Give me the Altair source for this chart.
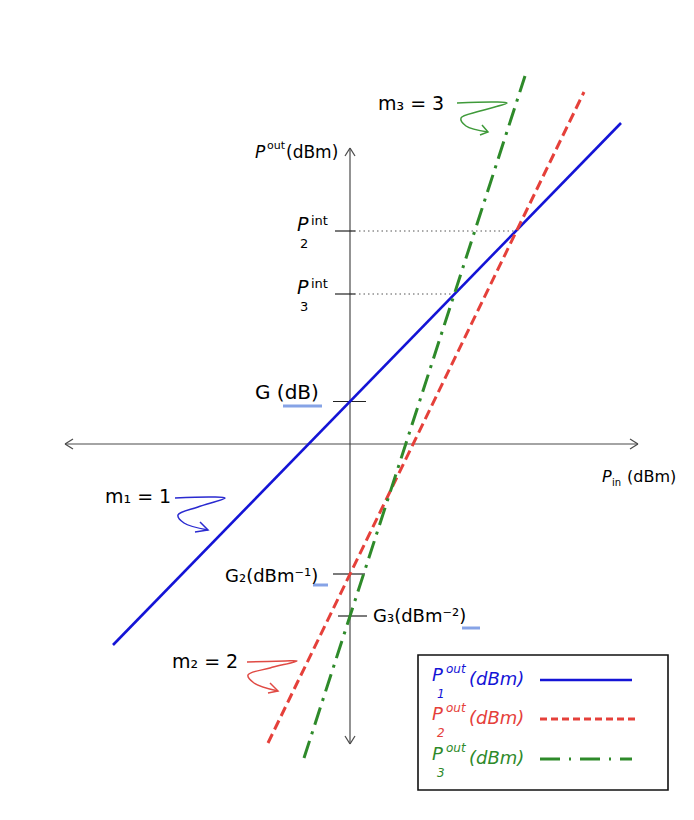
import altair as alt
import pandas as pd

# Diagram units: 1 unit = 10 px, origin where the two axes cross
X_DOMAIN = [-34.2, 33.4]
Y_DOMAIN = [-36.2, 43.6]

# ---- the three output-power lines (end points) ----
series_names = ["P1", "P2", "P3"]
line_x_start = [-23.7, -8.2, -4.6]
line_y_start = [-20.1, -29.9, -31.4]
line_x_end = [27.1, 23.4, 17.5]
line_y_end = [32.1, 35.2, 36.8]
series_colors = ["#1414d6", "#e5403a", "#2e8a2a"]

# ---- values marked on the vertical axis ----
g_value = 4.25
g2_value = -13.0
g3_value = -17.2
p2_int = 21.3
p3_int = 15.0
p2_int_x = 16.7
p3_int_x = 10.4

# ---- axes (with open arrow heads) ----
axis_x1 = [-28.5, 0.0, -28.5, -28.5, 28.8, 28.8, 0.0, 0.0, 0.0, 0.0]
axis_y1 = [0.0, 29.6, 0.0, 0.0, 0.0, 0.0, 29.6, 29.6, -30.0, -30.0]
axis_x2 = [28.8, 0.0, -27.7, -27.7, 28.0, 28.0, -0.5, 0.5, -0.5, 0.5]
axis_y2 = [0.0, -30.0, 0.5, -0.5, 0.5, -0.5, 28.8, 28.8, -29.2, -29.2]

# ---- ticks on the vertical axis ----
tick_x1 = [-1.7, -1.7, -1.2, -1.5, -1.5]
tick_x2 = [1.6, 1.5, 1.7, 0.5, 0.5]
tick_y = [g_value, g2_value, g3_value, p2_int, p3_int]

# ---- dotted guides to the intercept points ----
dot_x2 = [p2_int_x, p3_int_x]
dot_y = [p2_int, p3_int]

# ---- light blue spell-check underlines ----
ul_x1 = [-6.7, -3.7, 11.2]
ul_x2 = [-2.8, -2.2, 13.0]
ul_y = [3.8, -14.1, -18.4]

# ---- hand-drawn curly arrows ----
sq_group = ["m3"] * 7 + ["m1"] * 7 + ["m2"] * 7
sq_x = [10.7, 14.5, 15.7, 13.0, 11.1, 11.6, 13.8,
        -17.5, -13.8, -12.5, -15.2, -17.2, -16.6, -14.2,
        -10.3, -6.5, -5.3, -8.0, -10.2, -9.6, -7.2]
sq_y = [34.1, 34.2, 34.1, 33.3, 32.6, 31.8, 31.2,
        -5.4, -5.3, -5.4, -6.3, -7.1, -7.9, -8.6,
        -21.8, -21.7, -21.7, -22.4, -23.1, -23.9, -24.7]
sq_color = {"m3": "#3f9a3a", "m1": "#2a2ad0", "m2": "#e04a44"}
head_group = ["m3"] * 3 + ["m1"] * 3 + ["m2"] * 3
head_x = [13.2, 13.8, 13.0, -15.0, -14.2, -15.5, -8.0, -7.2, -8.2]
head_y = [31.9, 31.2, 30.9, -7.8, -8.6, -8.8, -23.9, -24.7, -24.9]

# ---- legend ----
legend_box = [6.8, 31.8, -21.1, -34.6]
legend_line_x1 = [19.0, 19.0, 19.0]
legend_line_x2 = [28.2, 28.6, 28.2]
legend_line_y = [-23.6, -27.5, -31.5]
legend_text_y = [-23.3, -27.2, -31.2]
legend_subs = ["1", "2", "3"]

# ---- text labels ----
label_text = ["m₃ = 3", "P", "out", "(dBm)",
              "P", "2", "int", "P", "3", "int",
              "G (dB)", "m₁ = 1", "G₂(dBm⁻¹)", "G₃(dBm⁻²)", "m₂ = 2",
              "P", "in", "(dBm)"]
label_x = [2.8, -9.5, -8.3, -6.4,
           -5.3, -5.0, -3.9, -5.3, -5.0, -3.9,
           -9.5, -24.5, -12.5, 2.3, -17.8,
           25.2, 26.2, 27.7]
label_y = [34.0, 29.1, 29.8, 29.1,
           21.9, 20.0, 22.3, 15.6, 13.7, 16.0,
           5.1, -5.3, -13.3, -17.3, -21.8,
           -3.3, -3.9, -3.3]
label_size = [19, 17, 11, 17,
              19, 13, 13, 19, 13, 13,
              20, 19, 18, 18, 19,
              16, 10, 16]
label_italic = [False, True, False, False,
                True, False, False, True, False, False,
                False, False, False, False, False,
                True, False, False]

sx = alt.Scale(domain=X_DOMAIN, nice=False, zero=False)
sy = alt.Scale(domain=Y_DOMAIN, nice=False, zero=False)
X = alt.X("x:Q", scale=sx, axis=None)
Y = alt.Y("y:Q", scale=sy, axis=None)
X2 = alt.X2("x2:Q")
Y2 = alt.Y2("y2:Q")

layers = []

# axes
axes_df = pd.DataFrame({"x": axis_x1, "y": axis_y1, "x2": axis_x2, "y2": axis_y2})
layers.append(alt.Chart(axes_df).mark_rule(color="#4a4a4a", strokeWidth=1.2)
              .encode(x=X, y=Y, x2=X2, y2=Y2))

# ticks
ticks_df = pd.DataFrame({"x": tick_x1, "x2": tick_x2, "y": tick_y, "y2": tick_y})
layers.append(alt.Chart(ticks_df).mark_rule(color="#222222", strokeWidth=1.2)
              .encode(x=X, y=Y, x2=X2, y2=Y2))

# dotted guides
dots_df = pd.DataFrame({"x": [0.0, 0.0], "x2": dot_x2, "y": dot_y, "y2": dot_y})
layers.append(alt.Chart(dots_df).mark_rule(color="#555555", strokeWidth=1, strokeDash=[1.5, 3])
              .encode(x=X, y=Y, x2=X2, y2=Y2))

# underlines
ul_df = pd.DataFrame({"x": ul_x1, "x2": ul_x2, "y": ul_y, "y2": ul_y})
layers.append(alt.Chart(ul_df).mark_rule(color="#86a3e6", strokeWidth=3)
              .encode(x=X, y=Y, x2=X2, y2=Y2))

# main lines
dashes = [None, [10, 5], [18, 7, 3, 7]]
widths = [2.6, 3, 3]
for i in range(3):
    df = pd.DataFrame({"x": [line_x_start[i], line_x_end[i]],
                       "y": [line_y_start[i], line_y_end[i]], "o": [0, 1]})
    kw = dict(color=series_colors[i], strokeWidth=widths[i], clip=False)
    if dashes[i] is not None:
        kw["strokeDash"] = dashes[i]
    layers.append(alt.Chart(df).mark_line(**kw).encode(x=X, y=Y, order="o:Q"))

# curly arrows
sq_df = pd.DataFrame({"x": sq_x, "y": sq_y, "g": sq_group,
                      "o": list(range(len(sq_x))),
                      "c": [sq_color[g] for g in sq_group]})
layers.append(alt.Chart(sq_df).mark_line(interpolate="catmull-rom", strokeWidth=1.5)
              .encode(x=X, y=Y, detail="g:N", order="o:Q",
                      color=alt.Color("c:N", scale=None)))
hd_df = pd.DataFrame({"x": head_x, "y": head_y, "g": head_group,
                      "o": list(range(len(head_x))),
                      "c": [sq_color[g] for g in head_group]})
layers.append(alt.Chart(hd_df).mark_line(strokeWidth=1.5)
              .encode(x=X, y=Y, detail="g:N", order="o:Q",
                      color=alt.Color("c:N", scale=None)))

# labels
lab_df = pd.DataFrame({"x": label_x, "y": label_y, "t": label_text,
                       "s": label_size, "it": label_italic})
for italic in (False, True):
    sub = lab_df[lab_df["it"] == italic].drop(columns="it")
    layers.append(alt.Chart(sub).mark_text(align="left", baseline="middle",
                                           font="DejaVu Sans",
                                           fontStyle="italic" if italic else "normal",
                                           color="#000000")
                  .encode(x=X, y=Y, text="t:N", size=alt.Size("s:Q", scale=None)))

# legend box
box_df = pd.DataFrame({"x": [legend_box[0]], "x2": [legend_box[1]],
                       "y": [legend_box[2]], "y2": [legend_box[3]]})
layers.append(alt.Chart(box_df).mark_rect(fill="white", stroke="#111111", strokeWidth=1.6)
              .encode(x=X, y=Y, x2=X2, y2=Y2))

# legend samples
for i in range(3):
    df = pd.DataFrame({"x": [legend_line_x1[i]], "x2": [legend_line_x2[i]],
                       "y": [legend_line_y[i]], "y2": [legend_line_y[i]]})
    kw = dict(color=series_colors[i], strokeWidth=widths[i])
    if dashes[i] is not None:
        kw["strokeDash"] = [7, 4] if i == 1 else [20, 9, 2, 9]
    layers.append(alt.Chart(df).mark_rule(**kw).encode(x=X, y=Y, x2=X2, y2=Y2))

# legend texts
leg_t, leg_x, leg_y, leg_s, leg_c = [], [], [], [], []
for i in range(3):
    yy = legend_text_y[i]
    for t, dx, dy, s in [("P", 8.2, 0.1, 18), ("out", 9.6, 0.8, 12),
                         (legend_subs[i], 8.7, -1.7, 12), ("(dBm)", 11.9, -0.3, 18)]:
        leg_t.append(t); leg_x.append(dx); leg_y.append(yy + dy)
        leg_s.append(s); leg_c.append(series_colors[i])
leg_df = pd.DataFrame({"x": leg_x, "y": leg_y, "t": leg_t, "s": leg_s, "c": leg_c})
layers.append(alt.Chart(leg_df).mark_text(align="left", baseline="middle",
                                          font="DejaVu Sans", fontStyle="italic")
              .encode(x=X, y=Y, text="t:N", size=alt.Size("s:Q", scale=None),
                      color=alt.Color("c:N", scale=None)))

chart = alt.layer(*layers).properties(
    width=676, height=798,
    autosize=alt.AutoSizeParams(type="none"),
    padding=0,
).configure_view(stroke=None)

chart.save("out.html", embed_options={"renderer": "svg", "actions": False})
